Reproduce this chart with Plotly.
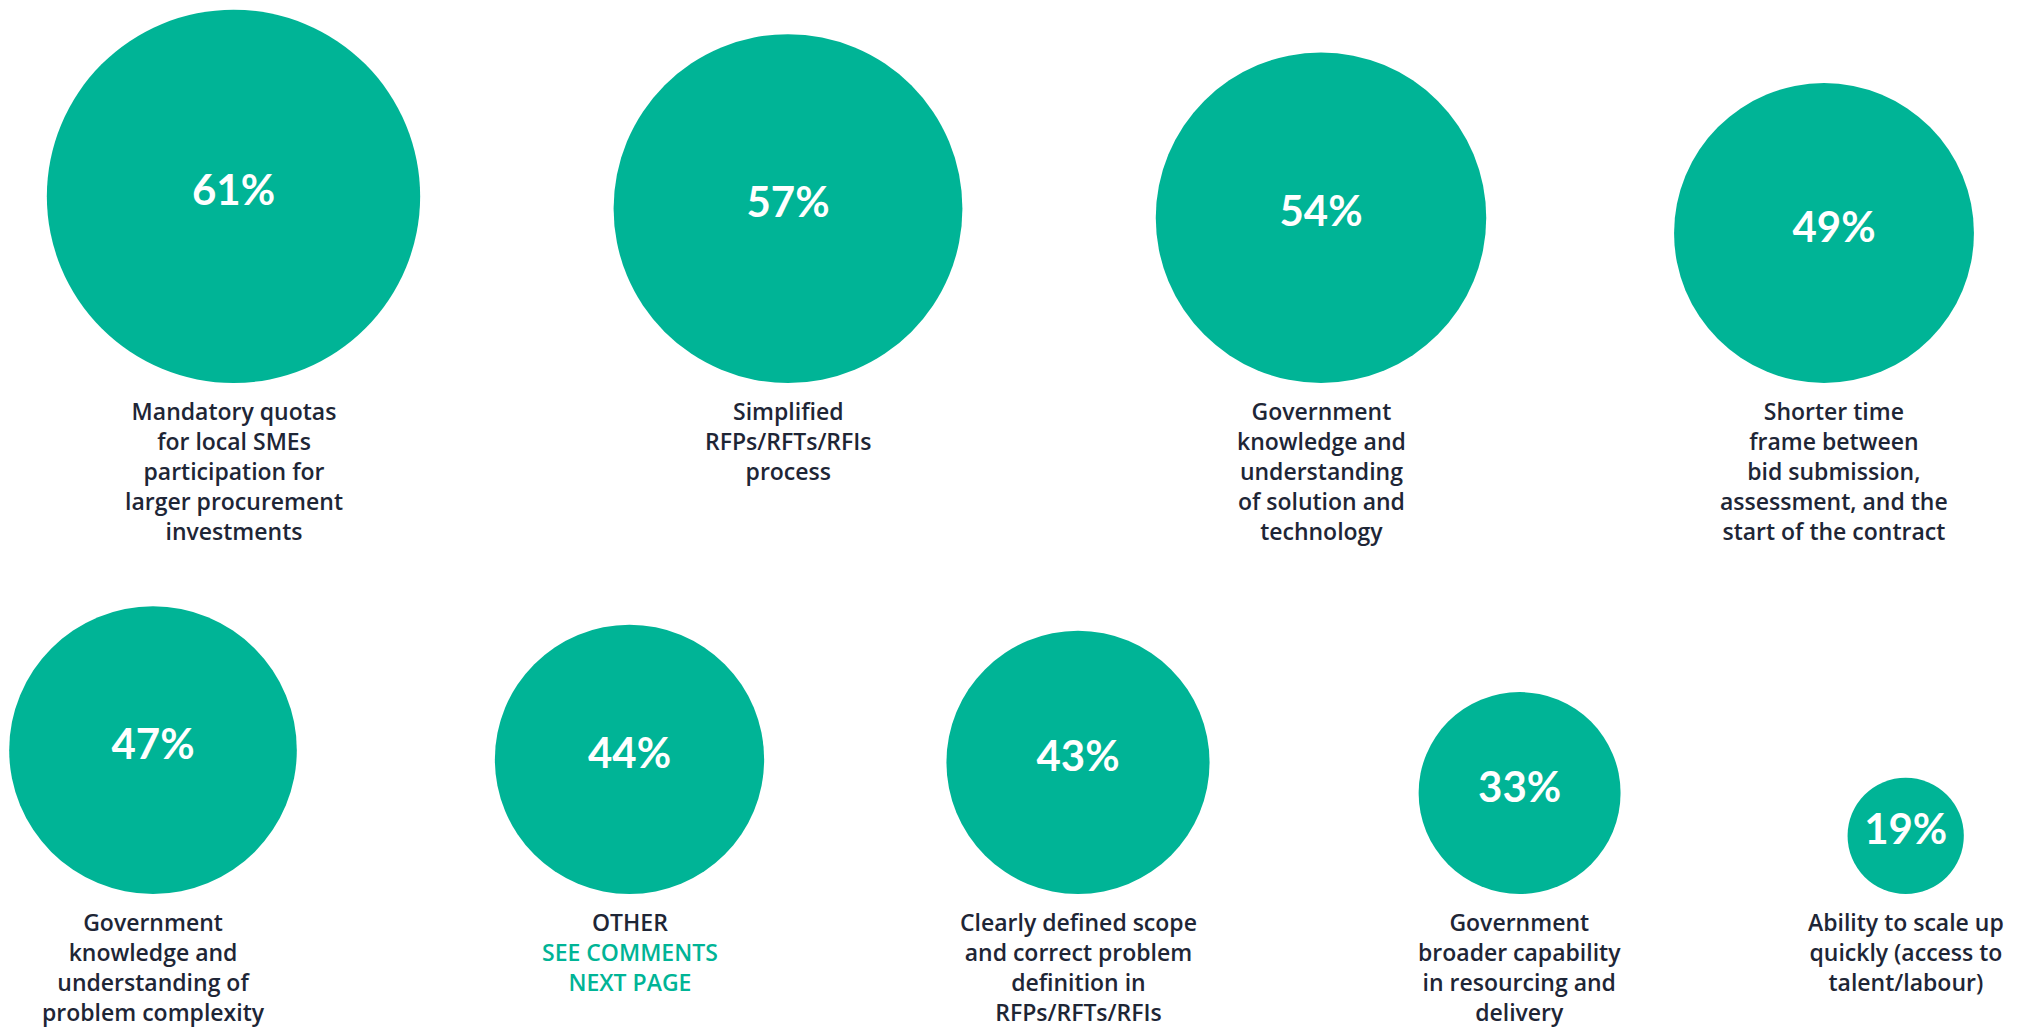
import plotly.graph_objects as go

# Survey results: share of respondents selecting each factor
categories = [
    "Mandatory quotas<br>for local SMEs<br>participation for<br>larger procurement<br>investments",
    "Simplified<br>RFPs/RFTs/RFIs<br>process",
    "Government<br>knowledge and<br>understanding<br>of solution and<br>technology",
    "Shorter time<br>frame between<br>bid submission,<br>assessment, and the<br>start of the contract",
    "Government<br>knowledge and<br>understanding of<br>problem complexity",
    "OTHER<br><span style='color:#00B496'>SEE COMMENTS</span><br><span style='color:#00B496'>NEXT PAGE</span>",
    "Clearly defined scope<br>and correct problem<br>definition in<br>RFPs/RFTs/RFIs",
    "Government<br>broader capability<br>in resourcing and<br>delivery",
    "Ability to scale up<br>quickly (access to<br>talent/labour)",
]
values = [61, 57, 54, 49, 47, 44, 43, 33, 19]

# Layout: two rows of bubbles sitting on a common baseline
W, H = 2035, 1029
TEAL = "#00B496"
INK = "#1E2636"
PX_PER_POINT = 3.06          # bubble radius in px per percentage point
ROW_SPLIT = 4
ROW_BASE = [383, 894]        # bottom edge of the bubbles in each row
ROW_X = [[233.5, 788, 1321, 1824],
         [153, 629.5, 1078, 1519.6, 1905.7]]
TEXT_DX = [0, 0, 0, 10, 0, 0, 0, 0, 0]   # small horizontal nudges for text

xs, ys, radii = [], [], []
for i, v in enumerate(values):
    row = 0 if i < ROW_SPLIT else 1
    col = i if row == 0 else i - ROW_SPLIT
    r = PX_PER_POINT * v
    xs.append(ROW_X[row][col])
    ys.append(ROW_BASE[row] - r)
    radii.append(r)

fig = go.Figure()
fig.add_trace(go.Scatter(
    x=xs, y=ys, mode="markers",
    marker=dict(size=[2 * r for r in radii], sizemode="diameter",
                color=TEAL, opacity=1, line=dict(width=0)),
    hoverinfo="skip", showlegend=False,
))
fig.add_trace(go.Scatter(
    x=[x + dx for x, dx in zip(xs, TEXT_DX)], y=[y - 2 for y in ys],
    mode="text",
    text=[f"{v}%" for v in values],
    textposition="middle center",
    textfont=dict(family="Lato", size=42, color="white", weight="bold"),
    hoverinfo="skip", showlegend=False,
))

for i, label in enumerate(categories):
    row = 0 if i < ROW_SPLIT else 1
    fig.add_annotation(
        x=xs[i] + TEXT_DX[i], y=ROW_BASE[row] + 10, xref="x", yref="y",
        text=label, showarrow=False, xanchor="center", yanchor="top",
        align="center",
        font=dict(family="Open Sans", size=23, color=INK, weight=600),
    )

fig.update_layout(
    width=W, height=H, autosize=False,
    margin=dict(l=0, r=0, t=0, b=0),
    paper_bgcolor="white", plot_bgcolor="white",
    xaxis=dict(range=[0, W], visible=False, fixedrange=True),
    yaxis=dict(range=[H, 0], visible=False, fixedrange=True),
)

fig.write_html("out.html")
